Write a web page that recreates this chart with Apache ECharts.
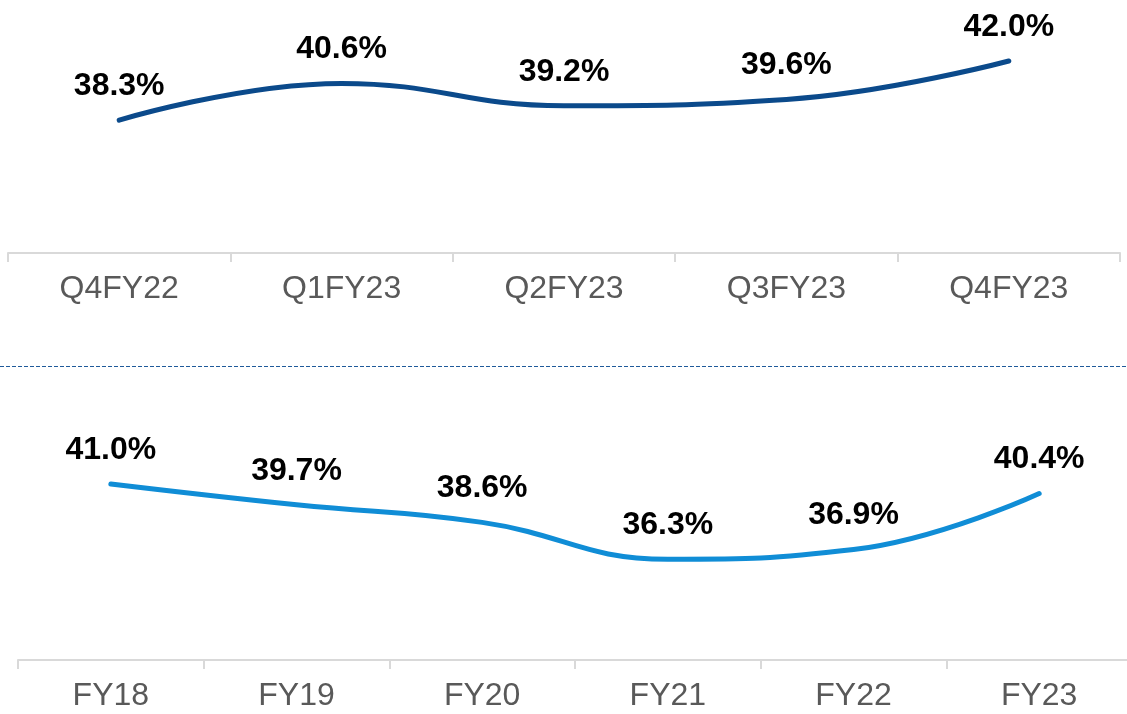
<!DOCTYPE html>
<html>
<head>
<meta charset="utf-8">
<script src="https://cdn.jsdelivr.net/npm/echarts@6/dist/echarts.min.js"></script>
<style>
  html, body { margin: 0; padding: 0; background: #fff; }
  #chart { width: 1127px; height: 714px; }
</style>
</head>
<body>
<div id="chart"></div>
<script>
  // quarterly
  const quarters = ['Q4FY22', 'Q1FY23', 'Q2FY23', 'Q3FY23', 'Q4FY23'];
  const quarterValues = [38.3, 40.6, 39.2, 39.6, 42.0];
  // yearly
  const years = ['FY18', 'FY19', 'FY20', 'FY21', 'FY22', 'FY23'];
  const yearValues = [41.0, 39.7, 38.6, 36.3, 36.9, 40.4];

  const font = "'Liberation Sans', Arial, sans-serif";

  function xAxis(idx, cats) {
    return {
      type: 'category',
      gridIndex: idx,
      data: cats,
      boundaryGap: true,
      axisLine: { lineStyle: { color: '#d9d9d9', width: 2 } },
      axisTick: { show: true, length: 9, lineStyle: { color: '#d9d9d9', width: 2 } },
      axisLabel: { color: '#595959', fontSize: 32, fontFamily: font, margin: 20 }
    };
  }
  function yAxis(idx) {
    return { type: 'value', gridIndex: idx, min: 30, max: 45, show: false, splitLine: { show: false } };
  }
  function lineSeries(idx, values, color) {
    return {
      type: 'line',
      xAxisIndex: idx,
      yAxisIndex: idx,
      data: values,
      smooth: 0.45,
      symbol: 'circle',
      symbolSize: 0,
      showSymbol: true,
      itemStyle: { color: color },
      lineStyle: { color: color, width: 5, cap: 'round' },
      label: {
        show: true,
        position: 'top',
        distance: 18,
        color: '#000',
        fontSize: 32,
        fontWeight: 'bold',
        fontFamily: font,
        formatter: p => p.value.toFixed(1) + '%'
      },
      animation: false
    };
  }

  const option = {
    animation: false,
    grid: [
      { left: 8, top: 13, width: 1112, height: 240, outerBoundsMode: 'none' },
      { left: 18, top: 420, width: 1114, height: 240, outerBoundsMode: 'none' }
    ],
    xAxis: [xAxis(0, quarters), xAxis(1, years)],
    yAxis: [yAxis(0), yAxis(1)],
    series: [
      lineSeries(0, quarterValues, '#0b4a8b'),
      lineSeries(1, yearValues, '#108dd6')
    ],
    graphic: [{
      type: 'line',
      shape: { x1: 0, y1: 366.5, x2: 1127, y2: 366.5 },
      style: { stroke: '#1f5a9a', lineWidth: 1, lineDash: [4, 2] }
    }]
  };

  echarts.init(document.getElementById('chart')).setOption(option);
</script>
</body>
</html>
